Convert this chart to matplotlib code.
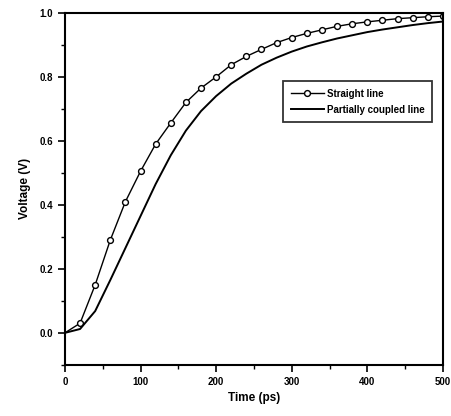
import matplotlib
matplotlib.use("Agg")
import matplotlib.pyplot as plt
from matplotlib.ticker import MultipleLocator

plt.rcParams["font.family"] = ["Liberation Sans", "DejaVu Sans"]

# time in ps, sampled every 20 ps
time_ps = [0, 20, 40, 60, 80, 100, 120, 140, 160, 180, 200, 220, 240,
           260, 280, 300, 320, 340, 360, 380, 400, 420, 440, 460, 480, 500]
straight = [0.0, 0.03, 0.15, 0.29, 0.41, 0.505, 0.59, 0.656, 0.72, 0.765,
            0.80, 0.838, 0.864, 0.886, 0.907, 0.923, 0.936, 0.947, 0.958,
            0.966, 0.972, 0.977, 0.982, 0.985, 0.988, 0.99]
coupled = [0.0, 0.012, 0.068, 0.165, 0.265, 0.365, 0.465, 0.555, 0.632, 0.693,
           0.74, 0.779, 0.81, 0.838, 0.86, 0.879, 0.895, 0.908, 0.92, 0.93,
           0.94, 0.948, 0.955, 0.962, 0.968, 0.973]

fig = plt.figure(figsize=(4.51, 4.16), dpi=100)
ax = fig.add_axes([0.144, 0.123, 0.838, 0.846])

ax.plot(time_ps, straight, color="black", lw=1.0, marker="o", ms=4.2,
        mfc="white", mec="black", mew=1.0, markevery=slice(1, None),
        label="Straight line")
ax.plot(time_ps, coupled, color="black", lw=1.4, label="Partially coupled line")

ax.set_xlim(0, 500)
ax.set_ylim(-0.1, 1.0)
ax.xaxis.set_major_locator(MultipleLocator(100))
ax.xaxis.set_minor_locator(MultipleLocator(50))
ax.yaxis.set_major_locator(MultipleLocator(0.2))
ax.yaxis.set_minor_locator(MultipleLocator(0.1))
ax.tick_params(which="major", direction="out", length=5, width=1.2,
               labelsize=7)
ax.tick_params(which="minor", direction="out", length=3, width=1.0)
ax.yaxis.set_major_formatter(plt.FuncFormatter(lambda v, p: f"{v:.1f}"))
for lbl in ax.get_xticklabels() + ax.get_yticklabels():
    lbl.set_fontweight("bold")
for sp in ax.spines.values():
    sp.set_linewidth(1.5)

ax.set_xlabel("Time (ps)", fontsize=8.5, fontweight="bold", labelpad=4)
ax.set_ylabel("Voltage (V)", fontsize=8.5, fontweight="bold", labelpad=6)

leg = ax.legend(loc="upper right", bbox_to_anchor=(0.985, 0.82),
                fontsize=7, frameon=True, fancybox=False, handlelength=3.4,
                borderpad=0.8, labelspacing=0.6, handletextpad=0.3)
leg.get_frame().set_edgecolor("black")
leg.get_frame().set_linewidth(1.3)
for t in leg.get_texts():
    t.set_fontweight("bold")

fig.savefig("out.png", dpi=100)
